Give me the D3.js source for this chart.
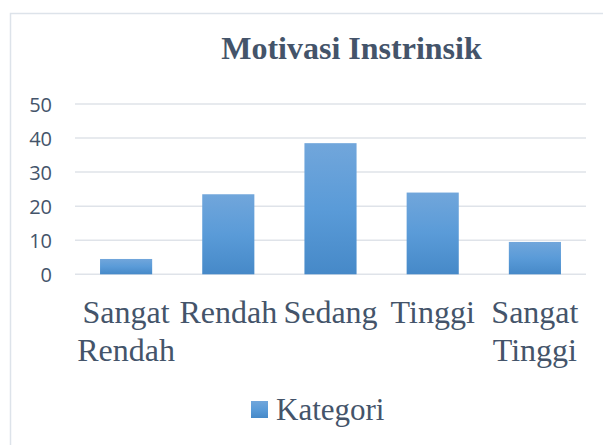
<!DOCTYPE html>
<html><head><meta charset="utf-8">
<script src="https://cdn.jsdelivr.net/npm/d3@7"></script>
<style>body{margin:0;background:#fff}svg{display:block}</style>
</head><body><div id="chart"></div>
<script>
const categories = ["Sangat Rendah","Rendah","Sedang","Tinggi","Sangat Tinggi"];
const labelLines = [["Sangat","Rendah"],["Rendah"],["Sedang"],["Tinggi"],["Sangat","Tinggi"]];
const values = [4.5, 23.5, 38.5, 24, 9.5];
const yTicks = [0,10,20,30,40,50];
const seriesName = "Kategori";
const title = "Motivasi Instrinsik";

const W = 603, H = 445;
const textColor = "#44546a";
const serif = "'Liberation Serif','Times New Roman',serif";
const svg = d3.select("#chart").append("svg").attr("width", W).attr("height", H);

const defs = svg.append("defs");
const grad = defs.append("linearGradient").attr("id","barGrad").attr("x1",0).attr("y1",0).attr("x2",0).attr("y2",1);
grad.append("stop").attr("offset","0%").attr("stop-color","#71a6db");
grad.append("stop").attr("offset","50%").attr("stop-color","#5a9bd8");
grad.append("stop").attr("offset","100%").attr("stop-color","#4689c8");

// chart border
svg.append("rect").attr("x",10.5).attr("y",13.5).attr("width",W).attr("height",H)
  .attr("fill","none").attr("stroke","#dde3ea").attr("stroke-width",1.5);

const plot = {left:75, right:586, top:104, bottom:274.3};
const x = d3.scaleBand().domain(categories).range([plot.left, plot.right]).paddingInner(0.49).paddingOuter(0.245);
const y = d3.scaleLinear().domain([0,50]).range([plot.bottom, plot.top]);

// gridlines
svg.append("g").selectAll("line").data(yTicks).join("line")
  .attr("x1",plot.left).attr("x2",plot.right)
  .attr("y1",d=>y(d)).attr("y2",d=>y(d))
  .attr("stroke","#dfe3e9").attr("stroke-width",1.5);

// y axis labels
const yAxis = d3.axisLeft(y).tickValues(yTicks).tickSize(0).tickPadding(0);
const gy = svg.append("g").attr("transform","translate(52,0)").call(yAxis);
gy.select(".domain").remove();
gy.selectAll("text").attr("fill",textColor).style("font-family","'Open Sans', 'Noto Sans', sans-serif").style("font-size","20px").attr("dy","0.36em");

// bars
svg.append("g").selectAll("rect").data(values).join("rect")
  .attr("x",(d,i)=>x(categories[i]))
  .attr("width",x.bandwidth())
  .attr("y",d=>y(d))
  .attr("height",d=>y(0)-y(d))
  .attr("fill","url(#barGrad)");

// category labels
const lab = svg.append("g").selectAll("text").data(categories).join("text")
  .attr("transform",d=>`translate(${x(d)+x.bandwidth()/2},323)`)
  .attr("text-anchor","middle").attr("fill",textColor)
  .style("font-family",serif).style("font-size","32px");
lab.each(function(d,i){
  const t = d3.select(this);
  labelLines[i].forEach((ln,j)=>{
    t.append("tspan").attr("x",0).attr("dy", j===0?0:38).text(ln);
  });
});

// title
svg.append("text").attr("x",351.5).attr("y",59).attr("text-anchor","middle")
  .attr("fill",textColor).style("font-family",serif)
  .style("font-weight","bold").style("font-size","32px").text(title);

// legend
svg.append("rect").attr("x",251).attr("y",401).attr("width",17).attr("height",17).attr("fill","url(#barGrad)");
svg.append("text").attr("x",276).attr("y",420).attr("fill",textColor)
  .style("font-family",serif).style("font-size","31px").text(seriesName);
</script></body></html>
